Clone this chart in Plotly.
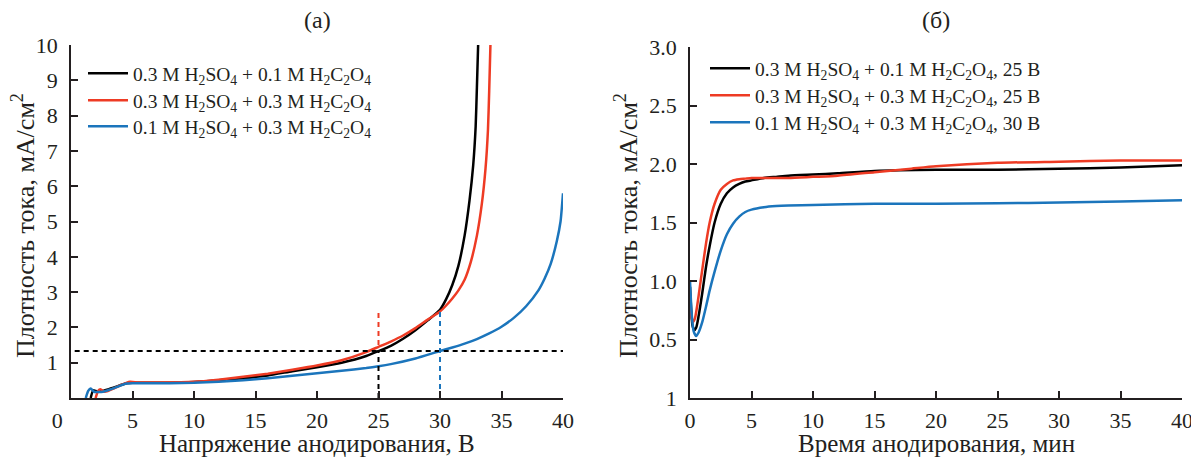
import plotly.graph_objects as go

# ---------------- data: panel (a) current density vs voltage ----------------
v_black = [1.6, 1.8, 2.0, 2.3, 2.6, 3.0, 3.5, 4.0, 4.5, 5.0, 6, 8, 10, 12, 14, 16, 18, 20, 22, 24,
           25, 26, 27, 28, 29, 30, 30.5, 31, 31.5, 32, 32.4, 32.7, 32.9, 33.0, 33.1]
j_black = [0.0, 0.22, 0.2, 0.18, 0.2, 0.24, 0.3, 0.36, 0.42, 0.43, 0.43, 0.43, 0.45, 0.5, 0.56, 0.64,
           0.76, 0.87, 1.0, 1.19, 1.33, 1.48, 1.68, 1.92, 2.2, 2.5, 2.8, 3.2, 3.75, 4.6, 5.6, 6.6, 7.7, 8.8, 10.0]

v_red = [2.0, 2.2, 2.4, 2.7, 3.0, 3.5, 4.0, 4.5, 4.8, 5.5, 7, 10, 12, 14, 16, 18, 20, 22, 24, 25, 26,
         27, 28, 29, 30, 30.5, 31, 31.5, 32, 32.5, 33, 33.4, 33.7, 33.9, 34.0, 34.1]
j_red = [0.0, 0.2, 0.25, 0.18, 0.2, 0.27, 0.36, 0.43, 0.46, 0.44, 0.44, 0.46, 0.52, 0.6, 0.69, 0.8,
         0.92, 1.07, 1.3, 1.45, 1.6, 1.77, 1.98, 2.22, 2.45, 2.62, 2.82, 3.05, 3.35, 3.85, 4.6, 5.5, 6.5, 7.6, 8.7, 10.0]

v_blue = [1.2, 1.4, 1.6, 1.9, 2.2, 2.6, 3.0, 3.5, 4.0, 4.5, 5, 6, 8, 10, 12, 14, 16, 18, 20, 22, 24,
          25, 26, 28, 30, 31, 32, 33, 34, 35, 36, 37, 38, 38.5, 39, 39.5, 39.8, 40]
j_blue = [0.0, 0.2, 0.27, 0.17, 0.17, 0.18, 0.22, 0.28, 0.35, 0.41, 0.42, 0.42, 0.42, 0.43, 0.46, 0.5,
          0.56, 0.63, 0.7, 0.77, 0.85, 0.9, 0.96, 1.12, 1.33, 1.43, 1.54, 1.67, 1.83, 2.02, 2.27, 2.6,
          3.05, 3.38, 3.8, 4.45, 5.0, 5.8]

# reference (dashed) lines of panel (a)
ref_h_x = [0.3, 40]
ref_h_y = [1.33, 1.33]
ref_black_x = [25, 25]
ref_black_y = [0, 1.36]
ref_red_x = [25, 25]
ref_red_y = [1.5, 2.5]
ref_blue_x = [30, 30]
ref_blue_y = [0, 2.44]

# ---------------- data: panel (б) current density vs time ----------------
t_black = [0, 0.1, 0.2, 0.35, 0.5, 0.7, 1.0, 1.3, 1.6, 2.0, 2.5, 3.0, 3.5, 4.0, 4.5, 5, 6, 7, 8,
           10, 12, 15, 20, 25, 30, 35, 40]
i_black = [0.95, 0.75, 0.62, 0.58, 0.6, 0.7, 0.9, 1.12, 1.3, 1.5, 1.66, 1.75, 1.8, 1.83, 1.85, 1.86,
           1.88, 1.89, 1.9, 1.91, 1.92, 1.94, 1.95, 1.95, 1.96, 1.97, 1.99]

t_red = [0, 0.1, 0.25, 0.4, 0.6, 0.8, 1.0, 1.3, 1.6, 2.0, 2.5, 3.0, 3.5, 4.0, 4.5, 5, 6, 8, 10, 12,
         15, 18, 20, 25, 30, 35, 40]
i_red = [0.82, 0.7, 0.65, 0.68, 0.8, 0.95, 1.1, 1.32, 1.5, 1.66, 1.78, 1.83, 1.86, 1.87, 1.875, 1.88,
         1.88, 1.88, 1.89, 1.9, 1.93, 1.96, 1.98, 2.01, 2.02, 2.03, 2.03]

t_blue = [0, 0.15, 0.3, 0.5, 0.7, 1.0, 1.3, 1.6, 2.0, 2.5, 3.0, 3.5, 4.0, 4.5, 5, 6, 7, 8, 10, 15,
          20, 25, 30, 35, 40]
i_blue = [1.0, 0.7, 0.57, 0.53, 0.56, 0.65, 0.78, 0.92, 1.08, 1.26, 1.4, 1.49, 1.55, 1.59, 1.61, 1.63,
          1.64, 1.645, 1.65, 1.66, 1.66, 1.665, 1.67, 1.68, 1.69]

names_a = ["0.3 M H<sub>2</sub>SO<sub>4</sub> + 0.1 M H<sub>2</sub>C<sub>2</sub>O<sub>4</sub>",
           "0.3 M H<sub>2</sub>SO<sub>4</sub> + 0.3 M H<sub>2</sub>C<sub>2</sub>O<sub>4</sub>",
           "0.1 M H<sub>2</sub>SO<sub>4</sub> + 0.3 M H<sub>2</sub>C<sub>2</sub>O<sub>4</sub>"]
names_b = [names_a[0] + ", 25 В", names_a[1] + ", 25 В", names_a[2] + ", 30 В"]

x_ticks_vals = [0, 5, 10, 15, 20, 25, 30, 35, 40]
x_ticks_a = ["0\u00a0\u00a0\u00a0\u00a0\u00a0", "5", "10", "15", "20", "25", "30", "35", "40"]
x_ticks_b = ["0", "5", "10", "15", "20", "25", "30", "35", "40"]
y_ticks_a_vals = [1, 2, 3, 4, 5, 6, 7, 8, 9, 10]
y_ticks_a = ["1", "2", "3", "4", "5", "6", "7", "8", "9", "10"]
y_ticks_b_vals = [0, 0.5, 1.0, 1.5, 2.0, 2.5, 3.0]
y_ticks_b = ["1", "0.5", "1.0", "1.5", "2.0", "2.5", "3.0"]

BLACK = "#000000"
RED = "#EE3B24"
BLUE = "#1B75BC"
TXT = "#231F20"
FONT = "Liberation Serif"

# page has an 8px body margin: figure is placed at (8, 8)
W, H, OFF = 1191, 452, 8


def px(x):
    return (x - OFF) / W


def py(y):
    return 1 - (y - OFF) / H


fig = go.Figure()

# panel (a)
for x, y, c, n, lg in [(v_black, j_black, BLACK, names_a[0], "legend"),
                       (v_red, j_red, RED, names_a[1], "legend2"),
                       (v_blue, j_blue, BLUE, names_a[2], "legend3")]:
    fig.add_trace(go.Scatter(x=x, y=y, mode="lines", name=n, legend=lg,
                             line=dict(color=c, width=2.5, shape="spline", smoothing=0.5),
                             xaxis="x", yaxis="y"))

for x, y, c in [(ref_h_x, ref_h_y, BLACK), (ref_black_x, ref_black_y, BLACK),
                (ref_red_x, ref_red_y, RED), (ref_blue_x, ref_blue_y, BLUE)]:
    fig.add_trace(go.Scatter(x=x, y=y, mode="lines", showlegend=False,
                             line=dict(color=c, width=2, dash="5px,4px"),
                             xaxis="x", yaxis="y"))

# panel (б)
for x, y, c, n, lg in [(t_black, i_black, BLACK, names_b[0], "legend4"),
                       (t_red, i_red, RED, names_b[1], "legend5"),
                       (t_blue, i_blue, BLUE, names_b[2], "legend6")]:
    fig.add_trace(go.Scatter(x=x, y=y, mode="lines", name=n, legend=lg,
                             line=dict(color=c, width=2.5, shape="spline", smoothing=0.6),
                             xaxis="x2", yaxis="y2"))

axis_common = dict(showline=True, linecolor=TXT, linewidth=1.5, ticks="inside", ticklen=7,
                   tickwidth=1.5, tickcolor=TXT, showgrid=False, zeroline=False, automargin=False,
                   tickfont=dict(family=FONT, size=22, color=TXT), mirror=False)


def leg(xp, yp):
    return dict(x=px(xp), y=py(yp), xanchor="left", yanchor="top",
                bgcolor="rgba(0,0,0,0)", font=dict(family=FONT, size=19.5, color=TXT),
                itemwidth=40)


fig.update_layout(
    width=W, height=H,
    margin=dict(l=0, r=0, t=0, b=0, autoexpand=False),
    paper_bgcolor="white", plot_bgcolor="white",
    font=dict(family=FONT, color=TXT),
    xaxis=dict(domain=[px(71), px(563)], range=[0, 40], tickvals=x_ticks_vals,
               ticktext=x_ticks_a, anchor="y", ticklabelstandoff=2, **axis_common),
    yaxis=dict(domain=[py(398), py(45)], range=[0, 10], tickvals=y_ticks_a_vals,
               ticktext=y_ticks_a, anchor="x", ticklabelstandoff=7, **axis_common),
    xaxis2=dict(domain=[px(690), px(1182)], range=[0, 40], tickvals=x_ticks_vals,
                ticktext=x_ticks_b, anchor="y2", ticklabelstandoff=2, **axis_common),
    yaxis2=dict(domain=[py(398), py(47)], range=[0, 3], tickvals=y_ticks_b_vals,
                ticktext=y_ticks_b, anchor="x2", ticklabelstandoff=7, **axis_common),
    legend=leg(83, 54),
    legend2=leg(83, 81),
    legend3=leg(83, 107),
    legend4=leg(705, 49),
    legend5=leg(705, 76),
    legend6=leg(705, 103),
    showlegend=True,
)

ann_font = dict(family=FONT, size=25, color=TXT)
annotations = [
    dict(text="(a)", x=px(317), y=py(20), font=dict(family=FONT, size=24, color=TXT)),
    dict(text="(б)", x=px(936), y=py(20), font=dict(family=FONT, size=24, color=TXT)),
    dict(text="Напряжение анодирования, В", x=px(317), y=py(443), font=ann_font),
    dict(text="Время анодирования, мин", x=px(936), y=py(443), font=ann_font),
    dict(text="Плотность тока, мА/см<sup>2</sup>", x=px(23), y=py(226), textangle=-90,
         font=dict(family=FONT, size=26, color=TXT)),
    dict(text="Плотность тока, мА/см<sup>2</sup>", x=px(626), y=py(226), textangle=-90,
         font=dict(family=FONT, size=26, color=TXT)),
]
for a in annotations:
    fig.add_annotation(xref="paper", yref="paper", showarrow=False, xanchor="center",
                       yanchor="middle", **a)

fig.write_html("out.html")
